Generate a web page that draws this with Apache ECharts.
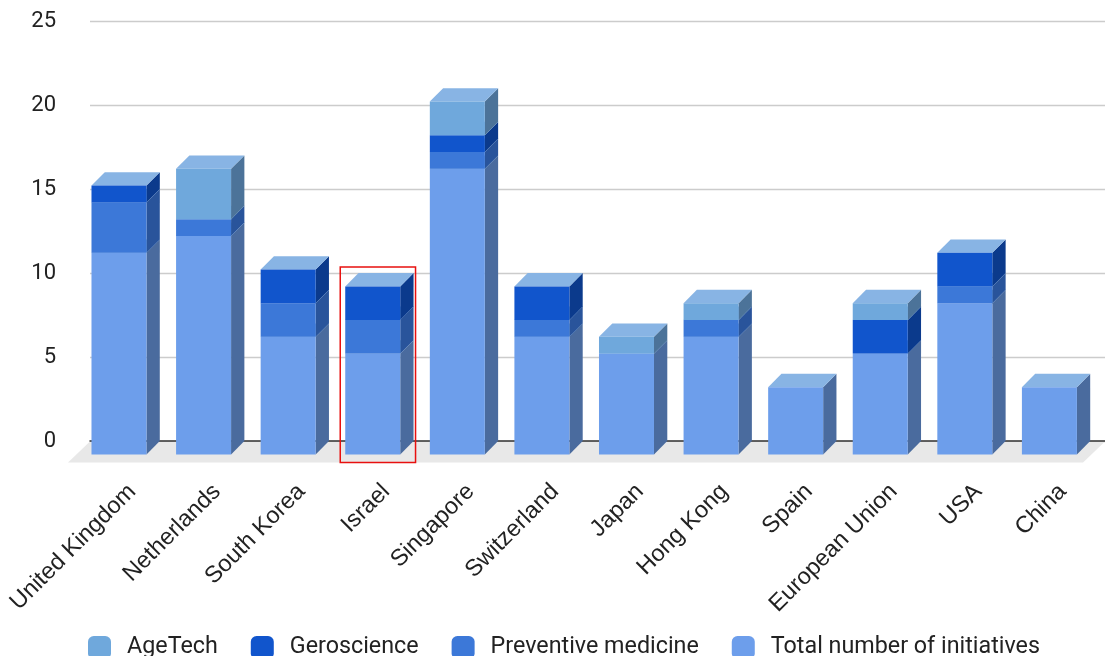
<!DOCTYPE html>
<html>
<head>
<meta charset="utf-8">
<script src="https://cdn.jsdelivr.net/npm/echarts@6/dist/echarts.min.js"></script>
<style>
html,body{margin:0;padding:0;background:#fff;}
#chart{width:1105px;height:656px;}
</style>
</head>
<body>
<div id="chart"></div>
<script>
const categories = ['United Kingdom','Netherlands','South Korea','Israel','Singapore','Switzerland','Japan','Hong Kong','Spain','European Union','USA','China'];
const totalInitiatives = [12,13,7,6,17,7,6,7,4,6,9,4];
const preventiveMedicine = [3,1,2,2,1,1,0,1,0,0,1,0];
const geroscience = [1,0,2,2,1,2,0,0,0,2,2,0];
const ageTech = [0,3,0,0,2,0,1,1,0,1,0,0];
const highlighted = ['Israel'];
const yTicks = [0,5,10,15,20,25];

const seriesDefs = [
  {name:'Total number of initiatives', values: totalInitiatives, front:'#6d9eeb', side:'#4a6b9e'},
  {name:'Preventive medicine', values: preventiveMedicine, front:'#3c78d8', side:'#29549b'},
  {name:'Geroscience', values: geroscience, front:'#1155cc', side:'#0b3a8c'},
  {name:'AgeTech', values: ageTech, front:'#6fa8dc', side:'#4c7399'}
];
const TOP_COLOR = '#88b4e4';
const DX = 13.3, DY = 13.4, BW = 55;

// stacked bases
const base = categories.map(()=>0);
const stacked = seriesDefs.map(def => {
  const d = def.values.map((v,i) => { const lo = base[i]; base[i] += v; return [i, lo, lo+v]; });
  return d;
});
const sums = base.slice();

function makeRender(def){
  return function(params, api){
    const i = api.value(0), lo = api.value(1), hi = api.value(2);
    if (!(hi > lo)) return null;
    const pLo = api.coord([i, lo]);
    const pHi = api.coord([i, hi]);
    const xb = pLo[0] - BW/2;
    const xf = xb - DX;
    const yLo = pLo[1], yHi = pHi[1];
    return {
      type:'group',
      children:[
        {type:'polygon', shape:{points:[[xf+BW, yHi+DY],[xb+BW, yHi],[xb+BW, yLo],[xf+BW, yLo+DY]]}, style:{fill:def.side}},
        {type:'polygon', shape:{points:[[xf, yHi+DY],[xf+BW, yHi+DY],[xb+BW, yHi],[xb, yHi]]}, style:{fill:TOP_COLOR}},
        {type:'rect', shape:{x:xf, y:yHi+DY, width:BW, height:yLo-yHi}, style:{fill:def.front}}
      ]
    };
  };
}

const series = [];
series.push({
  type:'custom', name:'floor', z:1, silent:true, clip:false,
  data:[[0,0]],
  renderItem: function(params, api){
    const cs = params.coordSys;
    const y0 = cs.y + cs.height + 0.5;
    return {type:'polygon', shape:{points:[[cs.x, y0],[cs.x+cs.width, y0],[cs.x+cs.width-22, y0+21],[cs.x-22, y0+21]]}, style:{fill:'#e8e8e8'}};
  }
});
seriesDefs.forEach((def, k) => {
  series.push({
    type:'custom', name:def.name, z:3, clip:false,
    itemStyle:{color:def.front},
    data: stacked[k],
    renderItem: makeRender(def)
  });
});
series.push({
  type:'custom', name:'highlight', z:6, silent:true, clip:false,
  data: highlighted.map(c => { const i = categories.indexOf(c); return [i, sums[i]]; }),
  renderItem: function(params, api){
    const i = api.value(0), top = api.value(1);
    const p = api.coord([i, top]);
    const p0 = api.coord([i, 0]);
    const x = p[0] - BW/2 - DX - 5;
    const y = p[1] - 6;
    return {type:'rect', shape:{x:x, y:y, width:BW+DX+7, height:(p0[1]+DY+8)-y}, style:{fill:'none', stroke:'#e8100f', lineWidth:1.5}};
  }
});

const chart = echarts.init(document.getElementById('chart'), null, {renderer:'canvas'});
chart.setOption({
  animation:false,
  backgroundColor:'#ffffff',
  grid:{left:90, top:21, width:1019, height:420, containLabel:false},
  legend:{
    data:['AgeTech','Geroscience','Preventive medicine','Total number of initiatives'],
    left:83, top:631, icon:'roundRect', itemWidth:23, itemHeight:23, itemGap:33,
    textStyle:{fontFamily:'Roboto', fontSize:23.3, color:'#222', padding:[0,0,0,11]},
    selectedMode:false
  },
  xAxis:{
    type:'category', data:categories, z:2,
    axisLine:{show:true, lineStyle:{color:'#333', width:1.5}},
    axisTick:{show:false},
    axisLabel:{interval:0, rotate:45, margin:47, fontFamily:'Liberation Sans, Arial', fontSize:23.5, color:'#222'}
  },
  yAxis:{
    type:'value', min:yTicks[0], max:yTicks[yTicks.length-1], interval:5,
    axisLine:{show:false}, axisTick:{show:false},
    axisLabel:{margin:34, fontFamily:'Roboto', fontSize:22, color:'#222'},
    splitLine:{lineStyle:{color:'#cccccc', width:1.3}}
  },
  series: series
});
</script>
</body>
</html>
